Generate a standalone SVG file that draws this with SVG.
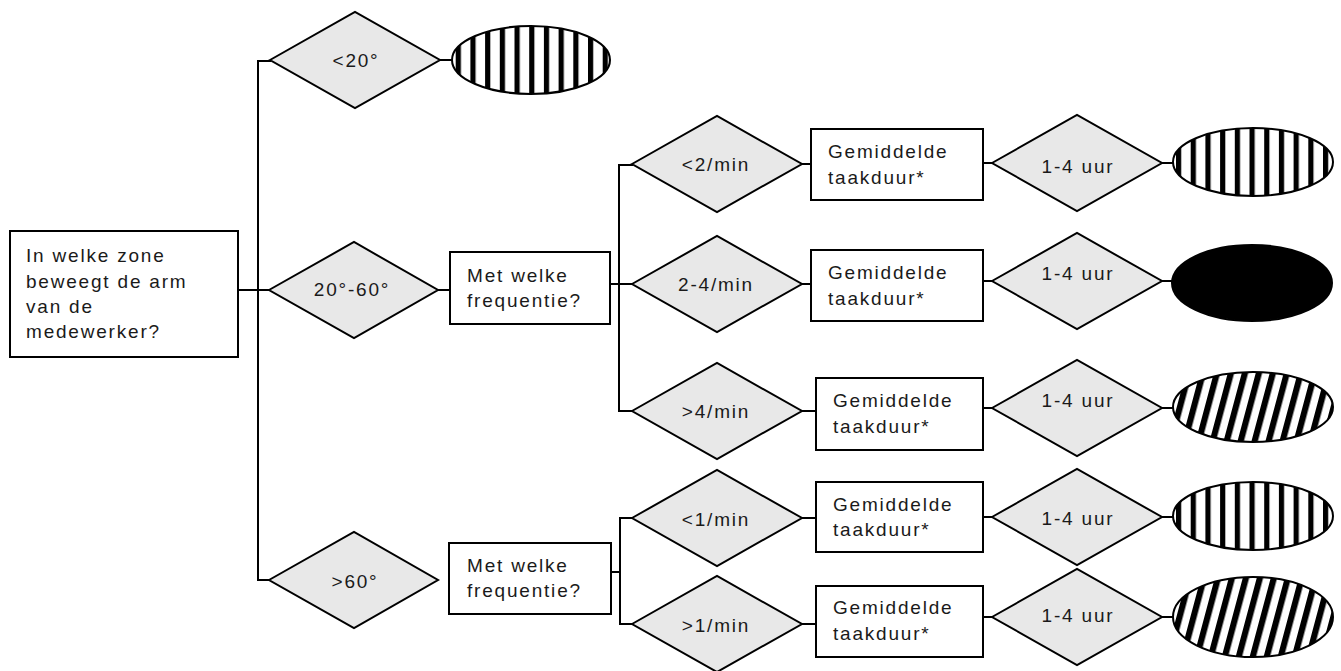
<svg xmlns="http://www.w3.org/2000/svg" width="1341" height="671" viewBox="0 0 1341 671">
<style>
.dia{fill:#e8e8e8;stroke:#000;stroke-width:2;stroke-linejoin:miter}
.box{fill:#fff;stroke:#000;stroke-width:2}
.ell{stroke:#000;stroke-width:2}
.t{font-family:"Liberation Sans",Arial,sans-serif;font-size:19px;letter-spacing:1.8px;fill:#1a1a1a}
.c{text-anchor:middle}
.con line{stroke:#000;stroke-width:2}
</style>
<defs>
<pattern id="vs" patternUnits="userSpaceOnUse" width="14.7" height="20">
<rect width="14.7" height="20" fill="#fff"/>
<rect x="0" width="5.2" height="20" fill="#000"/>
</pattern>
<pattern id="ds" patternUnits="userSpaceOnUse" width="13.5" height="20" patternTransform="rotate(15)">
<rect width="13.5" height="20" fill="#fff"/>
<rect x="0" width="6.2" height="20" fill="#000"/>
</pattern>
</defs>
<rect width="1341" height="671" fill="#fff"/>

<g id="connectors" class="con">
<line x1="238" y1="290" x2="270" y2="290"/>
<line x1="258" y1="60" x2="258" y2="581"/>
<line x1="257" y1="61" x2="271" y2="61"/>
<line x1="257" y1="580" x2="270" y2="580"/>
<line x1="440" y1="60" x2="452" y2="60"/>
<line x1="438" y1="290" x2="450" y2="290"/>
<line x1="606" y1="284" x2="633" y2="284"/>
<line x1="619" y1="164" x2="619" y2="412"/>
<line x1="618" y1="165" x2="633" y2="165"/>
<line x1="618" y1="411" x2="632" y2="411"/>
<line x1="802" y1="164" x2="812" y2="164"/>
<line x1="802" y1="284" x2="812" y2="284"/>
<line x1="802" y1="411" x2="816" y2="411"/>
<line x1="802" y1="518" x2="816" y2="518"/>
<line x1="802" y1="624" x2="816" y2="624"/>
<line x1="979" y1="163" x2="993" y2="163"/>
<line x1="979" y1="281" x2="993" y2="281"/>
<line x1="979" y1="408" x2="993" y2="408"/>
<line x1="979" y1="517" x2="993" y2="517"/>
<line x1="979" y1="617" x2="993" y2="617"/>
<line x1="1162" y1="163" x2="1173" y2="163"/>
<line x1="1162" y1="281" x2="1173" y2="281"/>
<line x1="1162" y1="408" x2="1173" y2="408"/>
<line x1="1162" y1="517" x2="1173" y2="517"/>
<line x1="1162" y1="617" x2="1173" y2="617"/>
<line x1="606" y1="572" x2="620" y2="572"/>
<line x1="620" y1="517" x2="620" y2="625"/>
<line x1="619" y1="518" x2="632" y2="518"/>
<line x1="619" y1="624" x2="632" y2="624"/>
</g>

<g id="n-start">
<rect class="box" x="10" y="231" width="228" height="126"/>
<text class="t" x="26" y="262">In welke zone</text>
<text class="t" x="26" y="288">beweegt de arm</text>
<text class="t" x="26" y="313">van de</text>
<text class="t" x="26" y="338">medewerker?</text>
</g>

<g id="d-lt20">
<polygon class="dia" points="270,60 355,12 440,60 355,108"/>
<text class="t c" x="356" y="67">&lt;20°</text>
</g>
<g id="e-lt20">
<ellipse class="ell" cx="531" cy="60" rx="79" ry="34" fill="url(#vs)"/>
</g>

<g id="d-20-60">
<polygon class="dia" points="269,290 354,242 438,290 354,338"/>
<text class="t c" x="352" y="296">20°-60°</text>
</g>
<g id="b-freq1">
<rect class="box" x="450" y="252" width="160" height="72"/>
<text class="t" x="467" y="282">Met welke</text>
<text class="t" x="467" y="307">frequentie?</text>
</g>

<g id="d-gt60">
<polygon class="dia" points="269,580 354,532 438,580 354,628"/>
<text class="t c" x="355" y="588">&gt;60°</text>
</g>
<g id="b-freq2">
<rect class="box" x="449" y="543" width="162" height="71"/>
<text class="t" x="467" y="572">Met welke</text>
<text class="t" x="467" y="597">frequentie?</text>
</g>

<g id="d-lt2">
<polygon class="dia" points="632,164 717,116 802,164 717,212"/>
<text class="t c" x="716" y="171">&lt;2/min</text>
</g>
<g id="b-dur1">
<rect class="box" x="811" y="129" width="172" height="71"/>
<text class="t" x="828" y="158">Gemiddelde</text>
<text class="t" x="828" y="184">taakduur*</text>
</g>
<g id="d-uur1">
<polygon class="dia" points="992,163 1077,115 1162,163 1077,211"/>
<text class="t c" x="1078" y="173">1-4 uur</text>
</g>
<g id="e-1">
<ellipse class="ell" cx="1253" cy="162" rx="80" ry="34" fill="url(#vs)"/>
</g>

<g id="d-2-4">
<polygon class="dia" points="632,284 717,236 802,284 717,332"/>
<text class="t c" x="716" y="291">2-4/min</text>
</g>
<g id="b-dur2">
<rect class="box" x="811" y="250" width="172" height="71"/>
<text class="t" x="828" y="279">Gemiddelde</text>
<text class="t" x="828" y="305">taakduur*</text>
</g>
<g id="d-uur2">
<polygon class="dia" points="992,281 1077,233 1162,281 1077,329"/>
<text class="t c" x="1078" y="280">1-4 uur</text>
</g>
<g id="e-2">
<ellipse class="ell" cx="1252" cy="283" rx="80" ry="38" fill="#000"/>
</g>

<g id="d-gt4">
<polygon class="dia" points="632,411 717,363 802,411 717,459"/>
<text class="t c" x="716" y="418">&gt;4/min</text>
</g>
<g id="b-dur3">
<rect class="box" x="816" y="378" width="167" height="72"/>
<text class="t" x="833" y="407">Gemiddelde</text>
<text class="t" x="833" y="433">taakduur*</text>
</g>
<g id="d-uur3">
<polygon class="dia" points="992,408 1077,360 1162,408 1077,456"/>
<text class="t c" x="1078" y="407">1-4 uur</text>
</g>
<g id="e-3">
<ellipse class="ell" cx="1253" cy="407" rx="80" ry="35" fill="url(#ds)"/>
</g>

<g id="d-lt1">
<polygon class="dia" points="632,518 717,470 802,518 717,566"/>
<text class="t c" x="716" y="526">&lt;1/min</text>
</g>
<g id="b-dur4">
<rect class="box" x="816" y="482" width="167" height="70"/>
<text class="t" x="833" y="511">Gemiddelde</text>
<text class="t" x="833" y="536">taakduur*</text>
</g>
<g id="d-uur4">
<polygon class="dia" points="992,517 1077,469 1162,517 1077,565"/>
<text class="t c" x="1078" y="525">1-4 uur</text>
</g>
<g id="e-4">
<ellipse class="ell" cx="1253" cy="516" rx="80" ry="34" fill="url(#vs)"/>
</g>

<g id="d-gt1">
<polygon class="dia" points="632,624 717,576 802,624 717,672"/>
<text class="t c" x="716" y="632">&gt;1/min</text>
</g>
<g id="b-dur5">
<rect class="box" x="816" y="586" width="167" height="71"/>
<text class="t" x="833" y="614">Gemiddelde</text>
<text class="t" x="833" y="640">taakduur*</text>
</g>
<g id="d-uur5">
<polygon class="dia" points="992,617 1077,569 1162,617 1077,665"/>
<text class="t c" x="1078" y="622">1-4 uur</text>
</g>
<g id="e-5">
<ellipse class="ell" cx="1253" cy="617" rx="80" ry="40" fill="url(#ds)"/>
</g>
</svg>
